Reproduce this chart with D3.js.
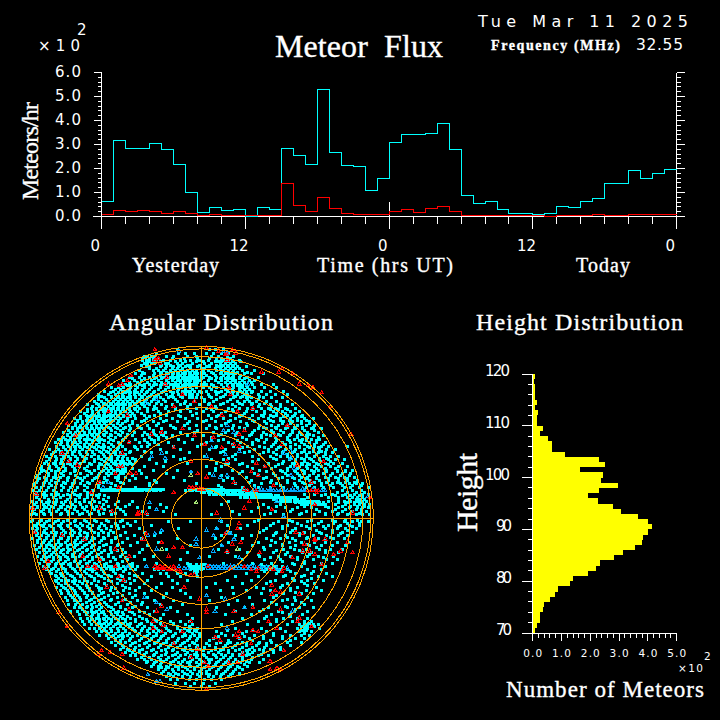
<!DOCTYPE html>
<html>
<head>
<meta charset="utf-8">
<script src="https://cdn.jsdelivr.net/npm/d3@7"></script>
<style>
body { margin: 0; background: #000; }
svg { display: block; }
text { fill: #fff; }
.ser { font-family: "Liberation Serif", serif; stroke: #fff; stroke-width: 0.35px; }
.num { font-family: "DejaVu Sans", sans-serif; }
</style>
</head>
<body>
<svg id="chart" width="720" height="720"></svg>
<script>
// meteors per hour (x100), one value per hour over two days
var allMeteors = [0.63,3.17,2.83,2.83,3.04,2.79,2.17,1.0,0.17,0.37,0.25,0.29,0,0.37,0.29,2.83,2.54,2.17,5.29,2.67,2.12,2.08,1.08,1.58,
    3.08,3.42,3.42,3.46,3.88,2.79,0.88,0.54,0.63,0.29,0.13,0.13,0.08,0.13,0.42,0.37,0.63,0.75,1.38,1.38,1.92,1.58,1.79,1.96];
var otherMeteors = [0.08,0.25,0.21,0.25,0.21,0.13,0.21,0.13,0.04,0.08,0.04,0.04,0.04,0.04,0.04,1.38,0.46,0.21,0.79,0.33,0.13,0.08,0.08,0.08,
    0.21,0.29,0.17,0.33,0.42,0.21,0.04,0.04,0.04,0.04,0.04,0.04,0.04,0,0.04,0.04,0.04,0.08,0.04,0.04,0.08,0.08,0.08,0.08];
var hourTicks = [0,12,24,36,48];
var hourLabels = ["0","12","0","12","0"];
var rateTicks = [0,1,2,3,4,5,6];

// number of meteors (x100) per 1 km height bin, from 119 km down to 70 km
var heightCounts = [0.08,0.06,0.08,0.08,0.08,0.15,0.09,0.19,0.15,0.15,0.35,0.24,0.53,0.66,0.66,1.12,2.30,2.51,1.64,2.44,2.37,2.96,2.30,1.92,2.27,
    2.79,3.07,3.66,4.0,4.14,4.0,3.83,3.80,3.55,3.14,2.82,2.34,2.20,1.92,1.40,1.30,0.88,0.78,0.60,0.39,0.36,0.25,0.25,0.15,0.08];
var heightTicks = [70,80,90,100,110,120];
var countTicks = [0,1,2,3,4,5];

// zenith angles of the sky rings
var ringAngles = [10,20,30,40,50,60,70,80,90];

// sky positions: first number of each row is north, the rest are east, in hundredths of the horizon radius
var underdenseRows = [
[98,-14,5,8,13],
[96,-26,-13,-9,-4,3,7,12,16],
[94,-33,-31,-29,-27,-20,-16,-8,-3,6,10,15,19],
[93,-34,-30,-28,-25,-17,-10,-2,5,9,12,17],
[92,-34,-32,-30,-28,-26,-22,-18,-12,-6,-1,4,9,13,15,18,22],
[91,-32,-30,-28,-24,-15,-9,-3,1,8,10,12,14,16,19,23],
[90,-33,-31,-29,-27,-21,-19,-14,-11,-5,2,6,11,14,17,20],
[89,-35,-23,-18,-12,-8,-6,-1,5,9,11,13,16,19],
[88,-32,-30,-24,-20,-16,-13,-9,-7,-2,3,5,10,12,15,18,21,26],
[87,-30,-26,-21,-17,-14,-11,-6,0,2,8,11,14,17,20,22],
[86,-36,-28,-25,-22,-18,-15,-12,-8,-5,-3,1,4,9,13,16,19,24,31],
[85,-34,-24,-20,-17,-13,-10,-7,-4,0,6,12,15,18,21,27],
[84,-38,-33,-27,-23,-19,-16,-14,-11,-9,-6,-4,-2,2,7,11,14,17,20,25,29,36],
[83,-35,-28,-24,-20,-17,-14,-12,-10,-7,-5,-3,0,3,8,13,16,19,23],
[82,-42,-36,-30,-26,-22,-18,-15,-13,-11,-8,-6,-4,-2,1,5,9,12,15,18,22,27,33],
[81,-40,-33,-27,-23,-19,-16,-13,-11,-9,-7,-5,-2,0,6,11,14,17,19,22,25],
[80,-45,-39,-35,-29,-25,-20,-17,-14,-12,-10,-8,-6,-4,-3,-1,4,8,12,15,18,20,24,28,31],
[79,-42,-37,-31,-27,-23,-19,-15,-12,-9,-7,-4,-2,2,10,14,17,20,22,25,29],
[78,-44,-41,-36,-33,-30,-26,-22,-18,-16,-13,-10,-8,-5,-3,0,3,6,12,15,19,21,23,26,30,35,42],
[77,-47,-43,-38,-34,-28,-24,-20,-15,-11,-7,-4,2,7,15,18,21,24,26],
[76,-52,-48,-45,-41,-37,-33,-29,-24,-19,-16,-14,-12,-9,-6,-3,1,5,9,13,16,19,22,24,27,31,37,44],
[75,-50,-47,-42,-38,-34,-30,-25,-21,-13,-9,-5,6,14,18,22,25,28],
[74,-56,-51,-46,-43,-39,-35,-31,-27,-22,-18,-14,-11,-8,-6,-4,-1,3,8,12,15,19,23,26,30,35,40,48],
[73,-53,-48,-44,-41,-37,-32,-28,-23,-16,-10,0,10,17,21,24,29],
[72,-60,-54,-50,-46,-42,-39,-36,-33,-29,-25,-20,-17,-13,-9,-7,-5,-2,4,9,14,18,21,25,27,33,38,43,50],
[71,-58,-52,-48,-45,-41,-38,-35,-30,-26,-18,-12,-6,5,13,20,24,28,34],
[70,-60,-56,-52,-49,-46,-43,-41,-38,-34,-31,-27,-24,-19,-16,-11,-7,-5,-3,0,6,11,19,23,26,29,36,41,47],
[69,-60,-55,-50,-47,-44,-41,-36,-32,-28,-22,-15,2,9,17,27,33],
[68,-62,-58,-54,-51,-48,-45,-43,-40,-37,-33,-29,-25,-21,-14,-9,-4,2,7,15,21,25,28,32,38,44,50],
[67,-61,-56,-53,-49,-46,-42,-39,-35,-31,-26,-10,5,13,22,30,37],
[66,-66,-60,-57,-55,-52,-50,-47,-44,-41,-38,-34,-30,-23,-17,-12,-6,-1,4,11,18,24,29,34,40,46,53],
[65,-63,-59,-54,-51,-48,-45,-42,-37,-33,-27,-20,-8,8,20,33,41,46],
[64,-64,-61,-58,-56,-53,-51,-49,-46,-43,-39,-36,-31,-26,-21,-15,-8,-3,3,9,16,22,27,35,39,43,49,55],
[63,-66,-61,-58,-55,-52,-48,-45,-42,-38,-28,-15,6,18,30,40,45,50],
[62,-70,-66,-63,-60,-57,-55,-52,-50,-47,-44,-41,-37,-31,-25,-19,-12,-6,1,7,14,19,26,32,37,42,47,52,57],
[61,-68,-63,-60,-56,-53,-50,-47,-43,-40,-35,-24,-3,12,25,37,44,49,55],
[60,-67,-64,-62,-59,-57,-54,-51,-49,-45,-42,-39,-33,-27,-20,-13,-5,4,10,17,24,30,35,40,44,50,54,59],
[59,-70,-65,-61,-59,-55,-52,-48,-45,-41,-30,-12,9,22,36,42,48,53,58],
[58,-74,-70,-66,-63,-61,-58,-56,-53,-50,-47,-43,-38,-32,-24,-17,-9,-2,6,13,20,28,33,39,46,52,56,60,65],
[57,-72,-67,-64,-60,-58,-54,-51,-48,-43,-33,-20,3,17,30,40,46,51,56,61],
[56,-72,-69,-65,-62,-60,-57,-55,-52,-48,-44,-40,-35,-28,-22,-14,-7,1,8,16,23,31,37,42,48,53,58,63],
[55,-73,-69,-66,-62,-59,-56,-53,-49,-46,-40,-25,-8,14,26,38,47,52,58,63],
[54,-77,-73,-70,-67,-64,-61,-58,-55,-51,-47,-42,-37,-31,-26,-18,-10,-3,5,12,19,27,34,41,45,50,56,61,66],
[53,-75,-71,-67,-64,-61,-58,-54,-50,-44,-36,-16,8,22,36,43,50,54,59,65],
[52,-75,-72,-69,-66,-63,-60,-57,-53,-49,-45,-41,-35,-30,-23,-15,-7,3,9,18,25,33,38,44,49,55,59,64,70],
[51,-77,-72,-69,-65,-62,-59,-56,-52,-47,-42,-28,-2,16,31,41,46,53,60,66],
[50,-80,-76,-73,-71,-68,-65,-62,-59,-55,-50,-46,-39,-33,-28,-24,-21,-12,-4,7,14,21,30,36,42,48,53,57,62,68],
[49,-78,-74,-71,-68,-64,-61,-57,-53,-48,-43,-31,-27,-23,12,29,38,45,52,58,63],
[48,-78,-75,-72,-69,-66,-63,-60,-56,-52,-47,-40,-34,-30,-26,-22,-17,-8,1,10,20,28,35,40,46,51,56,61,65,71],
[47,-80,-76,-72,-70,-66,-62,-59,-54,-50,-44,-30,-25,-20,6,24,35,43,50,56,62,68],
[46,-83,-79,-76,-74,-71,-68,-65,-61,-58,-53,-45,-38,-33,-29,-25,-13,-5,6,13,26,32,38,44,50,54,59,64,69],
[45,-81,-77,-74,-71,-67,-63,-60,-56,-51,-46,-33,-27,10,21,33,44,51,57,61,67],
[44,-85,-81,-78,-75,-73,-70,-67,-63,-59,-54,-48,-42,-36,-31,-27,-19,-10,3,16,23,30,37,43,47,52,58,63,67,72],
[43,-82,-78,-75,-72,-68,-65,-61,-57,-52,-47,-30,-25,0,18,30,42,49,55,60,66,71],
[42,-84,-80,-77,-74,-71,-68,-64,-60,-56,-51,-46,-39,-35,-31,-16,-2,9,19,27,34,41,46,52,57,62,66,70,74,85],
[41,-84,-80,-76,-73,-70,-66,-62,-58,-54,-48,-38,8,24,37,45,52,57,63,68],
[40,-88,-83,-79,-76,-73,-69,-65,-61,-57,-53,-49,-44,-37,-24,-12,5,14,22,31,39,44,49,55,60,65,69,73,78],
[39,-85,-81,-78,-74,-71,-67,-63,-59,-55,-50,-41,-33,13,28,39,48,54,60,65,70],
[38,-86,-82,-78,-75,-71,-67,-63,-58,-54,-51,-47,-42,-29,-20,-7,11,25,36,42,47,53,58,63,68,72,76],
[37,-87,-82,-79,-75,-70,-66,-62,-57,-53,-50,-47,-44,20,34,44,50,56,61,67,72],
[36,-90,-85,-80,-77,-73,-69,-64,-60,-56,-52,-48,-45,-35,-16,2,18,30,40,46,50,56,61,66,71,75,80],
[35,-88,-84,-80,-76,-72,-67,-60,-55,-52,-49,-46,-43,-40,-10,16,42,52,58,63,69,73],
[34,-88,-84,-81,-76,-72,-68,-62,-58,-54,-52,-49,-46,-43,-38,-30,-12,6,13,20,33,44,51,55,60,64,69,74,78,83],
[33,-90,-85,-81,-77,-73,-68,-62,-56,-52,-50,-47,-45,-42,-38,-21,30,48,55,60,65,70,75],
[32,-91,-86,-82,-78,-74,-70,-65,-59,-55,-51,-50,-47,-44,-41,-26,-8,9,16,24,39,47,53,58,62,67,72,77,82],
[31,-89,-85,-80,-76,-71,-64,-58,-54,-50,-48,-46,-43,-40,14,22,45,54,59,63,68,74],
[30,-93,-88,-84,-80,-75,-71,-66,-60,-56,-53,-49,-47,-45,-33,-22,3,12,27,37,43,52,57,61,66,70,75,80,85],
[29,-93,-88,-83,-79,-74,-68,-60,-55,-52,-49,-46,-44,-40,8,30,41,50,56,62,67,72,78],
[28,-92,-87,-83,-79,-73,-67,-62,-57,-54,-51,-48,-46,-44,-36,-28,-14,8,18,34,46,50,54,59,64,68,73,79,84,88],
[27,-93,-90,-85,-80,-74,-65,-58,-54,-50,-47,-44,24,38,47,55,60,66,73,79,84],
[26,-94,-89,-85,-81,-76,-70,-64,-59,-55,-52,-47,-45,-35,-20,5,22,31,42,49,56,60,65,71,76,82,87],
[25,-95,-89,-85,-80,-73,-66,-60,-54,-48,-40,12,33,43,50,57,63,68,75,81,86],
[24,-96,-91,-86,-82,-77,-72,-68,-61,-56,-50,-44,-32,-16,15,26,38,47,53,58,62,67,72,78,83,89],
[23,-94,-90,-84,-78,-70,-62,-56,-48,-38,18,36,45,54,61,67,74,80,85],
[22,-95,-90,-87,-83,-78,-74,-69,-63,-55,-49,-42,-27,-10,13,29,41,50,57,63,69,74,80,85,91],
[21,-96,-91,-85,-80,-74,-66,-57,-47,-26,28,40,50,59,66,73,79,84,89],
[20,-97,-92,-88,-84,-79,-75,-70,-65,-59,-52,-45,-30,-3,20,35,44,54,60,64,70,76,81,86,90,94],
[19,-97,-92,-87,-81,-75,-68,-60,-50,-30,10,31,46,55,63,70,75,82,88,93],
[18,-96,-93,-89,-85,-80,-76,-72,-66,-60,-53,-47,-38,12,24,33,40,48,56,61,66,71,77,83,87,92,97],
[17,-58,-57,-56,-55,-54,-53,-52,-51,-50,-49,-48,-47,-46,-45,-44,-43,-42,-41,-40,-39,-38,-37,-36,-35,-34,-33,-32,-31,-30,-29,-28,-27,-26,-25,-24,-23,-22,-6,-5,-4,-3,-2,-1,0,1,2,3,4,5,6,7,8,9,10,11,12,13],
[16,-58,-57,-56,-55,-54,-53,-52,-51,-50,-49,-48,-46,-44,-43,-42,-40,-38,-37,-36,-34,-32,-30,-28,-26,-24,-98,-94,-90,-86,-81,-77,-73,-68,-63,-9,-7,-5,-3,-1,1,3,5,7,9,11,13,14,15,16,17,18,19,20,21,22,23,24,25,26,27,82,88,93],
[15,-96,-91,-84,-75,-66,0,2,4,6,8,10,12,14,16,18,20,22,24,26,28,30,32,79,85,90,95],
[14,5,7,9,11,13,15,16,17,18,19,20,21,22,23,24,25,26,27,28,29,30,31,32,33,34,35,36,37,38,39,40,-97,-92,-87,-83,-78,-74,-70,-64,-59,60,66,72,76,84,89,94,97],
[13,-95,-90,-85,-80,-76,-72,-66,-61,-56,25,27,29,31,33,35,37,39,41,43,45,70,78,82,87,92],
[12,-96,-91,-86,-82,-76,-71,-66,-60,-54,23,25,27,29,31,33,35,37,38,39,40,41,42,43,44,45,46,47,48,49,50,51,52,53,54,55,62,74,80,85,88,91,94,98],
[11,-94,-89,-84,-78,-73,-68,-63,-57,42,44,46,48,50,52,54,56,58,60,80,86,90,92,95],
[10,-98,-93,-88,-84,-79,-73,-68,-62,-55,-48,-40,16,44,46,48,50,52,54,55,56,57,58,59,60,61,62,63,64,65,66,67,68,74,83,87,90,93,96],
[9,-96,-90,-86,-81,-76,-71,-65,-59,55,57,59,61,63,65,67,69,71,80,85,89,92,94],
[8,-97,-92,-89,-85,-80,-75,-70,-64,-57,-50,-42,-24,12,36,46,58,60,62,64,66,67,68,69,70,71,72,78,84,89,92,95,98],
[7,-95,-91,-87,-82,-78,-73,-67,-61,-54,-44,44,60,72,82,87,91,95],
[6,-99,-95,-90,-86,-81,-76,-69,-63,-58,-49,-37,-30,-20,33,39,49,56,64,74,80,86,91,94,97],
[5,-97,-92,-88,-83,-79,-74,-68,-62,-56,-47,53,67,78,84,90,93],
[4,-98,-93,-88,-84,-78,-72,-66,-60,-53,-45,-34,-22,18,29,43,52,61,69,76,82,88,93,96],
[3,-97,-92,-87,-81,-75,-69,-64,-57,-50,40,58,72,80,87,92],
[2,-99,-96,-91,-87,-82,-77,-71,-65,-59,-52,-44,-31,-15,6,22,37,48,57,66,72,79,85,90,94,98],
[-1,-98,-93,-88,-83,-78,-73,-68,-62,-55,-46,33,51,64,76,84,91],
[-2,-99,-94,-90,-85,-80,-74,-67,-61,-54,-47,-38,-19,-6,12,31,45,53,62,70,78,83,88,93,97],
[-3,-95,-91,-86,-81,-76,-70,-65,-58,-50,-43,42,56,68,77,85,92],
[-4,-97,-93,-88,-83,-78,-73,-69,-63,-56,-49,-41,-29,15,27,40,50,58,66,74,81,86,92],
[-5,-96,-92,-87,-82,-77,-72,-66,-59,-52,-45,47,61,71,80,88],
[-6,-98,-95,-90,-86,-81,-76,-71,-65,-60,-55,-48,-36,-13,9,23,38,47,55,63,72,79,84,90],
[-7,-96,-91,-86,-80,-75,-70,-64,-58,-53,36,53,67,76,85],
[-8,-97,-92,-87,-84,-79,-74,-68,-62,-57,-51,-44,-33,-24,17,34,44,52,60,69,76,82,88],
[-9,-95,-90,-85,-81,-76,-71,-66,-60,-54,43,57,70,81],
[-10,-96,-93,-89,-85,-80,-75,-70,-66,-60,-54,-47,-39,-27,12,20,29,42,49,57,65,73,80,85],
[-11,-94,-90,-86,-82,-77,-72,-68,-63,-57,-50,50,62,75],
[-12,-98,-94,-90,-86,-81,-77,-72,-67,-62,-56,-50,-43,-35,-14,8,24,38,46,53,61,68,77,83],
[-13,-95,-91,-87,-83,-78,-73,-69,-64,-58,-52,41,55,72],
[-14,-95,-92,-88,-83,-79,-74,-70,-65,-59,-52,-46,-37,-25,16,33,43,51,58,66,72,79,86],
[-15,-93,-89,-85,-81,-76,-72,-67,-62,-55,-48,47,61],
[-16,-97,-93,-90,-87,-82,-78,-73,-68,-63,-57,-49,-41,-31,-6,12,30,40,47,55,63,70,76,84],
[-17,-94,-90,-86,-83,-78,-74,-69,-64,-59,-53,36,52,67],
[-18,-96,-91,-88,-84,-80,-76,-71,-66,-60,-53,-46,-34,-20,10,22,37,48,54,61,69,75,82],
[-19,-92,-88,-85,-81,-77,-72,-67,-62,-56,-49,44,57,72],
[-20,-94,-90,-86,-82,-78,-74,-69,-64,-58,-52,-44,-36,-8,15,27,42,50,59,64,72,80],
[-21,-91,-87,-84,-80,-75,-70,-65,-60,-54,-46,33,49,63],
[-22,-95,-92,-88,-83,-79,-75,-71,-66,-61,-54,-47,-39,-28,5,20,34,45,52,62,68,77],
[-23,-90,-86,-82,-78,-73,-68,-63,-58,-51,-44,40,56,71],
[-24,-93,-90,-86,-82,-77,-73,-68,-63,-57,-50,-43,-33,-12,24,37,46,56,65,73,79],
[-25,-91,-87,-83,-79,-74,-70,-65,-59,-53,-46,47,60],
[-26,-94,-88,-84,-80,-76,-71,-67,-62,-55,-49,-40,-26,-8,13,30,41,53,60,70,76],
[-27,-89,-85,-81,-77,-72,-66,-61,-56,-48,-42,-6,-3,0,2,35,54],
[-28,-92,-89,-85,-81,-76,-72,-69,-66,-63,-60,-56,-54,-52,-48,-45,-43,-40,-37,-7,-6,-5,-4,-3,-2,-1,0,36,39,42,44,47,58,66,72],
[-29,-90,-86,-80,-75,-70,-67,-64,-61,-58,-55,-51,-47,-44,-41,-5,-3,-1,1,40,43],
[-30,-90,-87,-83,-79,-74,-70,-65,-62,-58,-53,-49,-44,-38,-27,-25,-22,-18,-15,-6,-4,-2,0,32,35,38,41,44,46,50,62,70],
[-31,-88,-84,-79,-73,-68,-63,-57,-51,-45,-4,-2,37,45,52,65],
[-32,-87,-82,-78,-72,-67,-61,-56,-50,-42,-34,-24,-20,-14,-9,-3,26,44,55,64,73],
[-33,-85,-81,-76,-70,-65,-60,-54,-47,-39,49,60],
[-34,-84,-80,-75,-70,-64,-58,-52,-46,-37,-29,-19,-12,-2,20,33,48,58,68,76],
[-35,-83,-79,-74,-68,-62,-56,-49,-42,53,64],
[-36,-85,-81,-77,-73,-68,-62,-54,-47,-39,-31,-17,-8,15,29,43,54,62,71],
[-37,-84,-79,-75,-71,-66,-60,-52,-44,40,58],
[-38,-83,-79,-74,-69,-64,-56,-49,-41,-33,-23,-14,8,24,38,50,60,66],
[-39,-81,-77,-72,-67,-61,-55,-46,47,62],
[-40,-84,-80,-76,-71,-66,-60,-52,-44,-36,-26,-17,3,18,32,46,56,67],
[-41,-79,-75,-70,-65,-58,-50,-42,36,52],
[-42,-82,-78,-74,-69,-65,-59,-53,-45,-38,-29,-12,11,26,40,52,61,70],
[-43,-77,-73,-68,-63,-57,-49,55],
[-44,-81,-77,-73,-68,-63,-58,-51,-42,-33,-20,-9,19,35,48,58,65],
[-45,-76,-72,-66,-60,-54,-46,-38,44],
[-46,-79,-75,-71,-67,-62,-56,-49,-40,-31,-22,-6,12,28,42,54,62],
[-47,-74,-70,-64,-58,-52,-44,50],
[-48,-78,-74,-70,-65,-60,-53,-46,-37,-27,-16,5,21,37,47,55,64],
[-49,-72,-67,-62,-56,-48,-41,-34,41,58],
[-50,-77,-73,-69,-64,-59,-55,-50,-43,-35,-24,-11,16,30,44,53,60],
[-51,-70,-66,-61,-54,-47,-38,49],
[-52,-74,-71,-67,-63,-58,-52,-47,-40,-31,-18,9,25,39,50,57,65],
[-53,-69,-64,-59,-51,-44,36,55],
[-54,-76,-72,-68,-64,-61,-57,-53,-48,-42,-36,-27,-14,20,34,45,54,62],
[-55,-66,-62,-58,-50,-46,-40,-33,47],
[-56,-71,-67,-63,-60,-56,-52,-49,-45,-39,-30,-22,-8,14,29,41,51,59],
[-57,-64,-60,-55,-51,-47,-43,-36,38,52],
[-58,-70,-66,-64,-61,-57,-54,-50,-46,-41,-34,-24,-5,24,37,48,56,62],
[-59,-63,-59,-56,-52,-48,-44,-38,-32,-27,44],
[-60,-69,-65,-62,-59,-55,-52,-48,-44,-38,-31,-26,-18,-12,-7,18,33,44,53,60,64],
[-61,-60,-56,-53,-49,-45,-41,-35,-29,-24,-16,60,63],
[-62,-68,-64,-61,-58,-54,-50,-47,-43,-36,-29,-23,-16,-9,-5,12,27,40,50,57,61,65,68],
[-63,-58,-55,-51,-47,-42,-37,-33,-27,-21,-14,-7,58,60,62,66],
[-64,-65,-62,-59,-56,-53,-49,-45,-40,-34,-30,-26,-20,-14,-10,-6,-2,20,35,46,56,60,62,69],
[-65,-56,-52,-48,-44,-39,-35,-31,-25,-19,-12,-8,-4,15,30,59,61],
[-66,-61,-58,-55,-52,-48,-44,-38,-31,-28,-24,-18,-12,-7,-3,9,26,38,49,57,60,64],
[-67,-54,-50,-46,-42,-36,-30,-26,-21,-15,-10,-5,-1,12,24,42,60],
[-68,-59,-55,-51,-47,-43,-37,-31,-26,-22,-16,-9,-4,14,19,31,42,52,58,63],
[-69,-52,-48,-45,-40,-33,-28,-23,-17,-11,-6,-1,10,25,36,47],
[-70,-54,-50,-46,-41,-35,-29,-24,-19,-13,-7,-2,7,22,28,36,47,55,60],
[-71,-50,-47,-42,-36,-30,-25,-20,-14,-8,-3,5,16,30,40,52],
[-72,-52,-48,-44,-38,-32,-26,-20,-15,-10,-5,11,17,24,34,41,50,58],
[-73,-47,-40,-33,-27,-22,-17,-11,-4,3,9,15,21,26,33,38],
[-74,-50,-46,-41,-36,-30,-24,-18,-12,-7,-2,5,14,20,26,32,38,44,52],
[-75,-45,-38,-31,-25,-19,-14,-9,-3,2,8,13,18,24,30,37,46],
[-76,-47,-43,-39,-34,-28,-21,-16,-11,-6,-1,8,13,22,28,34,40,46],
[-77,-42,-36,-29,-23,-17,-10,-5,1,6,11,16,20,26,31,36,42],
[-78,-44,-40,-36,-32,-26,-20,-14,-8,-3,4,10,16,24,27,30,36,42],
[-79,-38,-33,-27,-21,-15,-9,-4,1,7,12,18,22,28,35],
[-80,-41,-38,-33,-28,-23,-17,-12,-6,-2,2,8,14,18,22,26,33,39],
[-81,-35,-30,-25,-19,-13,-7,-3,3,9,13,17,24,30],
[-82,-37,-33,-29,-24,-20,-15,-10,-5,-1,4,6,11,16,20,24,29,36],
[-83,-31,-26,-22,-16,-11,-6,0,5,10,15,21,26],
[-84,-32,-27,-23,-18,-13,-8,-3,1,5,9,14,19,23,28,34],
[-85,-28,-24,-18,-12,-7,-1,4,8,13,18,25],
[-86,-29,-25,-20,-15,-11,-6,-2,3,7,12,17,21,27],
[-87,-23,-19,-13,-9,-4,2,6,11,16,22],
[-88,-25,-21,-17,-13,-8,-4,0,5,10,15,20,24],
[-89,-22,-16,-11,-6,-1,3,9,14,19],
[-90,-23,-19,-15,-10,-5,0,3,9,13,18,22],
[-91,-18,-13,-8,-2,5,12,17],
[-92,-20,-16,-11,-6,-1,4,7,11,16],
[-94,-18,-14,-7,-3,2,6,12],
[-96,-15,-9,-4,1,8],
[-98,-6,0,5]
];
var meteorRows = [
[99,3],[98,-27,18],[97,10],[96,20],[95,14,15],[93,-26,-25],[92,-27,15],[90,-24],[87,47],[85,45,35],[84,53],[83,-41],[82,-20],
[80,-43],[78,-54,-46,-21,57],[77,-48,62],[76,65,16],[73,70],[72,-11,17],[68,-4],[65,-16,6,75],[64,30],[62,-54,21],[60,12,-43],
[55,-78],[54,50],[52,-11],[51,25],[50,-23],[49,-29,22,87],[48,-73,-4,43],[47,7],[44,-42],[43,2,19,47],[42,22],[41,-16,12],
[38,-46,-81],[33,-6,-77,15,71],[32,32],[31,-72,56],[30,-46,-48,37],[27,29],[26,-50,-41,-38,-2],[25,33],[24,3],[21,-59,19,64],
[19,42],[18,-48,-7,-5,-3],[17,-1,0,1,25],[16,27,32,62,64,66,68],[15,-64,-16,67],[14,-96],[12,98],[10,28],[8,66],[6,-98,-59,25],
[5,41],[4,-52],[3,-37,-36,-32,9,88],[2,-37],
[-3,22],[-6,21],[-8,-97,55],[-9,-32,14,59],[-10,-81],[-12,-68,-34,66,72],[-13,66],[-14,-23,23,85],[-15,18,60],[-17,-16,-11],
[-18,-50],[-19,15,59,63,81],[-20,34,88],[-21,66,77],[-22,-69,-42,-19],[-23,53],[-24,-59],[-25,-89],[-27,70],
[-28,-66,-62,-50,-16,-27,-24,-21,4,25],[-29,-91,-61,-26,-25,-23,-22,-20,-18,17,33,40,48],[-30,-19,-13,-17,-15,29,42],
[-31,-12,32,47],[-33,-6,-4],[-34,-48],[-36,-45],[-39,41],[-40,-55,-10],[-42,43],[-43,46],[-44,41,57],[-47,-1],[-48,-46],
[-51,-23],[-52,30],[-53,-42,3,46],[-54,-26,19],[-55,-83,3],[-58,57],[-60,-28,-6,39,56],[-62,-22],[-63,-78,64],[-64,-28,44],
[-65,30],[-66,-23,-11,22,33],[-68,20],[-69,8,22],[-71,11],[-73,-16,29],[-76,-2],[-77,-58,48],[-78,-53],[-79,-60,-46,24],
[-81,-6],[-83,40],[-84,2,16,21],[-86,4],[-87,-45,44],[-88,40,46],[-99,3]
];
var otherRows = [
[97,-13,13],[96,15],[78,27],[69,-26],[67,-32],[54,15],[51,13],[50,19],[45,6],[41,6],[39,22,52],[38,-23,48],[37,14],[36,-29,3],[35,-21,52],
[29,54],[27,-6],[25,7,15,52],[24,11],[21,-54],[18,-57],[16,30,32,34,36,38,40,42,44,46,48,50,52,54,56,58,60,62,64,66,68,70,72],[17,31,35,40,47,53,59,65],
[13,97],[10,44],[9,-30],[5,-26],[1,48],[-1,11],[-6,9],[-7,-23,3],[-8,15],[-9,-27,17],[-10,-31,7],[-12,-3,19],[-15,-3],[-16,12],[-18,-26],
[-19,7],[-23,-1,22],[-28,-43,-32,-13,3,5,7,9,11,13,15,17,19,21,23,25,27,29,31,34,38],[-29,-10,-8,4,6,8,10,12,14,16,18,20,22,24,26,28,30,36,44,50],
[-45,3],[-46,-33],[-47,14],[-49,-26],[-52,25],[-53,-20],[-54,8,53],[-64,15],[-91,-31],[-95,-26,-24]
];
var paleRows = [[25,-6],[9,-3],[-18,-23,21]];

var svg = d3.select("#chart");

// ---- meteor flux panel
var hourX = d3.scaleLinear().domain([0,48]).range([101.7,676.7]);
var rateY = d3.scaleLinear().domain([0,6]).range([216.5,72.5]);

function stepLine(values){
    var pts = values.map((v,i) => [i,v]);
    pts.push([values.length, values[values.length-1]]);
    return d3.line().x(d => hourX(d[0])).y(d => rateY(d[1])).curve(d3.curveStepAfter)(pts);
}

var flux = svg.append("g").attr("shape-rendering","crispEdges");
flux.append("path").attr("d",stepLine(allMeteors)).attr("fill","none").attr("stroke","#00ffff");

var axes = svg.append("g").attr("stroke","#fff").attr("shape-rendering","crispEdges");
function seg(g,x1,y1,x2,y2,color){
    var l = g.append("line").attr("x1",x1).attr("y1",y1).attr("x2",x2).attr("y2",y2);
    if(color) l.attr("stroke",color);
    return l;
}
seg(axes,hourX(0),rateY(0),hourX(0),rateY(6));
seg(axes,hourX(48),rateY(0),hourX(48),rateY(6));
seg(axes,93,rateY(0),684,rateY(0));
d3.range(0,6.01,0.2).forEach(v => {
    var major = Math.abs(v-Math.round(v))<0.001;
    seg(axes,hourX(0)-(major?8:4),rateY(v),hourX(0),rateY(v));
    seg(axes,hourX(48),rateY(v),hourX(48)+(major?8:4),rateY(v));
});
d3.range(0,49,2).forEach(h => {
    seg(axes,hourX(h),rateY(0),hourX(h),rateY(0)+(h%12==0?12:7));
});
seg(axes,hourX(24),rateY(0),hourX(24),rateY(0.62));

flux.append("path").attr("d",stepLine(otherMeteors)).attr("fill","none").attr("stroke","#ff0000");
flux.raise();

function label(txt,x,y,size,cls,len,anchor){
    var t = svg.append("text").attr("x",x).attr("y",y).attr("class",cls).attr("font-size",size).text(txt);
    if(len) t.attr("textLength",len).attr("lengthAdjust","spacing");
    if(anchor) t.attr("text-anchor",anchor);
    return t;
}
rateTicks.forEach(v => label(d3.format(".1f")(v),55,rateY(v)+4.5,15,"num",26));
hourTicks.forEach((h,i) => label(hourLabels[i],hourX(h)-6.5,251,15,"num",null,"middle"));
label("\u00d7 1 0",38,51,15,"num",42);
label("2",77,35,15,"num");
label("Meteor  Flux",275,57,32,"ser",168).attr("xml:space","preserve");
label("Tue Mar 11 2025",478,27,16,"num",210);
label("Frequency (MHz)",491,50,14,"ser",129).style("font-weight","bold");
label("32.55",636,50,15.5,"num",47);
label("Yesterday",132,272,20,"ser",87);
label("Time (hrs UT)",317,272,20,"ser",136);
label("Today",576,272,20,"ser",54);
label("Meteors/hr",0,0,24,"ser",98).attr("transform","translate(38,200) rotate(-90)");

// ---- angular distribution panel
var skyX = d3.scaleLinear().domain([-100,100]).range([29.3,373.3]);
var skyY = d3.scaleLinear().domain([-100,100]).range([690.3,346.3]);

function rowsToPoints(rows){
    var pts = [];
    rows.forEach(r => r.slice(1).forEach(l => pts.push([l,r[0]])));
    return pts;
}

var sky = svg.append("g").attr("shape-rendering","crispEdges");
sky.append("g").selectAll("rect").data(rowsToPoints(underdenseRows)).join("rect")
    .attr("x",d => skyX(d[0])-1.5).attr("y",d => skyY(d[1])-1.5).attr("width",3).attr("height",3).attr("fill","#00ffff");

var tri = d3.symbol().type(d3.symbolTriangle).size(6)();
function triangles(rows,color){
    sky.append("g").selectAll("path").data(rowsToPoints(rows)).join("path").attr("d",tri)
        .attr("transform",d => "translate("+skyX(d[0])+","+skyY(d[1])+")")
        .attr("fill","none").attr("stroke",color).attr("stroke-width",1);
}
triangles(otherRows,"#00aaff");
triangles(meteorRows,"#ff0000");
triangles(paleRows,"#a8e878");

sky.append("g").selectAll("circle").data(ringAngles).join("circle")
    .attr("cx",skyX(0)).attr("cy",skyY(0))
    .attr("r",d => skyX(100*Math.sin(d*Math.PI/180))-skyX(0))
    .attr("fill","none").attr("stroke","#ffa500").attr("stroke-width",1);
seg(sky,skyX(-100),skyY(0),skyX(100),skyY(0),"#ffa500").attr("stroke-width",1);
seg(sky,skyX(0),skyY(-100),skyX(0),skyY(100),"#ffa500").attr("stroke-width",1);
label("Angular Distribution",109,330,24,"ser",224);

// ---- height distribution panel
var countX = d3.scaleLinear().domain([0,5]).range([532.7,676.7]);
var heightY = d3.scaleLinear().domain([70,120]).range([633,374]);

svg.append("g").attr("shape-rendering","crispEdges").selectAll("rect").data(heightCounts).join("rect")
    .attr("x",countX(0))
    .attr("y",(d,i) => heightY(120-i))
    .attr("width",d => countX(d)-countX(0))
    .attr("height",(d,i) => heightY(119-i)-heightY(120-i))
    .attr("fill","#ffff00");

seg(axes,countX(0),heightY(70),countX(0),heightY(120));
seg(axes,countX(0)-11,heightY(70),countX(5),heightY(70));
d3.range(70,121,2).forEach(h => {
    seg(axes,countX(0)-(h%10==0?11:5),heightY(h),countX(0),heightY(h));
});
d3.range(0,5.01,0.2).forEach(v => {
    var major = Math.abs(v-Math.round(v))<0.001;
    seg(axes,countX(v),heightY(70),countX(v),heightY(70)+(major?8:5));
});
axes.raise();
flux.raise();

heightTicks.forEach(h => label(String(h),h>=100?485:496,heightY(h)+2,15,"num",h>=100?25:16));
countTicks.forEach(v => label(d3.format(".1f")(v),countX(v)-9.5,656.5,10.5,"num",19));
label("\u00d7 1 0",678,672,10.5,"num",25);
label("2",704,660,10.5,"num");
label("Height Distribution",476,330,24,"ser",207);
label("Number of Meteors",506,697,23,"ser",198);
label("Height",0,0,30,"ser",79).attr("transform","translate(477,532) rotate(-90)");
</script>
</body>
</html>
